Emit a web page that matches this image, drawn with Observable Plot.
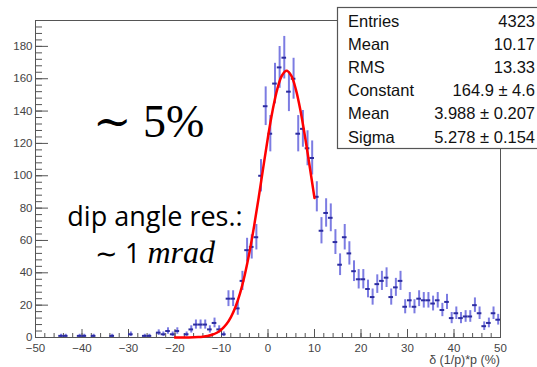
<!DOCTYPE html>
<html><head><meta charset="utf-8">
<script src="https://cdn.jsdelivr.net/npm/d3@7"></script>
<script src="https://cdn.jsdelivr.net/npm/@observablehq/plot@0.6"></script>
<style>
html,body{margin:0;padding:0;background:#fff;overflow:hidden;}
#wrap{position:relative;width:537px;height:367px;}
svg{overflow:hidden;}
</style></head><body><div id="wrap"></div>
<script>
// lower edges of the 1-unit histogram bins
const binLow = d3.range(-50, 50);
// bin contents (bins -50..49)
const counts = [
  0,0,0,0,0,1,1,0,0,1,
  1,0,1,0,0,0,1,0,0,0,
  2,0,0,1,1,0,3,2,4,2,
  4,0,2,5,8,8,8,5,9,5,
  2,24,24,18,35,54,56,62,100,143,
  126,157,167,173,152,160,126,129,117,111,
  87,66,77,74,59,45,62,52,41,36,
  36,30,25,33,35,37,25,31,35,19,
  23,19,24,23,23,21,23,17,22,12,
  15,12,13,13,20,15,7,9,15,11
];
// gaussian fit curve, sampled from the picture / fit parameters
const fitX = [-20,-19,-18,-17,-16,-15,-14,-13,-12,-11,-10,-9,-8,-7,-6,-5,-4,-3,-2,-1,0,1,2,3,4,5,6,7,8,9,10];
const fitY = [0.005,0.013,0.03,0.06,0.13,0.26,0.5,0.93,1.68,2.92,4.92,7.99,12.5,18.9,27.5,38.7,52.5,68.7,86.6,105.5,124.0,140.5,153.6,162.0,164.9,161.9,153.3,140.1,123.5,105.1,86.2];

const xMajorTicks = [-50,-40,-30,-20,-10,0,10,20,30,40,50];
const xMinorTicks = d3.range(-50, 51, 2);
const yMajorTicks = [0,20,40,60,80,100,120,140,160,180];
const yMinorTicks = d3.range(0, 197, 4);

const statsLabels = ["Entries","Mean","RMS","Constant","Mean","Sigma"];
const statsValues = ["4323","10.17","13.33","164.9 \u00b1 4.6","3.988 \u00b1 0.207","5.278 \u00b1 0.154"];

const xTitle = "\u03b4 (1/p)*p (%)";

const bins = binLow.map((lo, i) => ({lo, hi: lo + 1, x: lo + 0.5, n: counts[i]})).filter(d => d.n > 0);
const fit = fitX.map((x, i) => ({x, y: fitY[i]}));

const axisColor = "#555";
const plot = Plot.plot({
  width: 537, height: 367,
  marginLeft: 35, marginRight: 37, marginTop: 20, marginBottom: 30,
  x: {domain: [-50, 50]},
  y: {domain: [0, 196]},
  style: {fontFamily: "'Liberation Sans', Arial, sans-serif", fontSize: "11.5px", color: "#444", background: "#fff"},
  marks: [
    Plot.frame({stroke: axisColor}),
    Plot.axisY({ticks: yMinorTicks, tickSize: -7, fill: "none", stroke: axisColor, label: null}),
    Plot.axisY({ticks: yMajorTicks, tickSize: -13, fill: "none", stroke: axisColor, label: null}),
    Plot.axisY({ticks: yMajorTicks, tickSize: 0, tickPadding: 3, fill: "#444", label: null}),
    Plot.axisX({ticks: xMinorTicks, tickSize: -4, fill: "none", stroke: axisColor, label: null}),
    Plot.axisX({ticks: xMajorTicks, tickSize: -8, fill: "none", stroke: axisColor, label: null}),
    Plot.axisX({ticks: xMajorTicks, tickSize: 0, tickPadding: 6, fill: "#444", label: null}),
    Plot.ruleX(bins, {x: "x", y1: d => d.n - Math.sqrt(d.n), y2: d => d.n + Math.sqrt(d.n), stroke: "#7c7ce2", strokeWidth: 2}),
    Plot.ruleY(bins, {y: "n", x1: "lo", x2: "hi", stroke: "#2c2ca0", strokeWidth: 2}),
    Plot.line(fit, {x: "x", y: "y", curve: "catmull-rom", stroke: "#ff0000", strokeWidth: 2.5})
  ]
});
document.getElementById("wrap").appendChild(plot);

const svg = d3.select(plot);
// stats box
const box = svg.append("g").attr("text-anchor", "start");
box.append("rect").attr("x", 337.5).attr("y", 7.5).attr("width", 220).attr("height", 141)
  .attr("fill", "#fff").attr("stroke", axisColor).attr("stroke-width", 1.2);
statsLabels.forEach((t, i) => {
  const yb = 26.5 + i * 23.2;
  box.append("text").attr("x", 348).attr("y", yb).attr("text-anchor", "start").attr("font-family", "'Liberation Sans', Arial, sans-serif")
    .attr("font-size", 16.5).attr("fill", "#111").text(t);
  box.append("text").attr("x", 535).attr("y", yb).attr("text-anchor", "end").attr("font-family", "'Liberation Sans', Arial, sans-serif")
    .attr("font-size", 16.5).attr("fill", "#111").text(statsValues[i]);
});
// x title
svg.append("text").attr("x", 500).attr("y", 364).attr("text-anchor", "end")
  .attr("font-family", "'Liberation Sans', Arial, sans-serif").attr("font-size", 12.5).attr("fill", "#444").text(xTitle);
// annotations
svg.append("text").attr("x", 93).attr("y", 137).attr("text-anchor", "start").attr("font-family", "'Liberation Serif','DejaVu Serif',serif")
  .attr("font-size", 46).attr("fill", "#000").text("\u223c 5%");
svg.append("text").attr("x", 155).attr("y", 226).attr("text-anchor", "middle").attr("font-family", "'Open Sans', Lato, sans-serif")
  .attr("font-size", 27).attr("fill", "#000").text("dip angle res.:");
const t2 = svg.append("text").attr("x", 155).attr("y", 263).attr("text-anchor", "middle").attr("fill", "#000");
t2.append("tspan").attr("font-family", "'Open Sans', Lato, sans-serif").attr("font-size", 27).text("\u223c 1 ");
t2.append("tspan").attr("font-family", "'Liberation Serif','DejaVu Serif',serif").attr("font-style", "italic").attr("font-size", 32).text("mrad");
</script>
</body></html>
